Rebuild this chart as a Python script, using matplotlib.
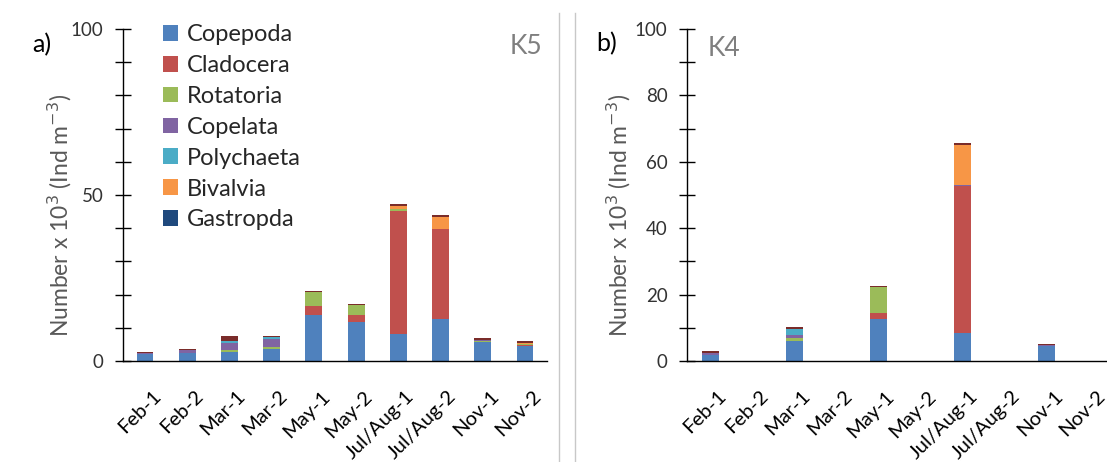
import numpy as np
import matplotlib
matplotlib.use('Agg')
import matplotlib.pyplot as plt
from matplotlib.lines import Line2D
from matplotlib.transforms import ScaledTranslation

plt.rcParams['font.family'] = ['Lato', 'DejaVu Sans']

# sampling campaigns
categories = ['Feb-1', 'Feb-2', 'Mar-1', 'Mar-2', 'May-1', 'May-2',
              'Jul/Aug-1', 'Jul/Aug-2', 'Nov-1', 'Nov-2']

groups = ['Copepoda', 'Cladocera', 'Rotatoria', 'Copelata',
          'Polychaeta', 'Bivalvia', 'Gastropda', 'Other']
colors = ['#4F81BD', '#C0504D', '#9BBB59', '#8064A2',
          '#4BACC6', '#F79646', '#1F497D', '#7A2C2A']

# station K5 (x 10^3 ind m-3)
k5_copepoda   = [2.0, 2.4, 2.7, 3.5, 14.0, 11.7, 8.2, 12.6, 5.7, 4.6]
k5_cladocera  = [0.0, 0.0, 0.0, 0.0, 2.6, 2.3, 37.1, 27.1, 0.0, 0.3]
k5_rotatoria  = [0.0, 0.0, 0.7, 0.7, 4.3, 2.8, 0.4, 0.0, 0.3, 0.3]
k5_copelata   = [0.4, 0.8, 2.0, 2.4, 0.0, 0.0, 0.0, 0.0, 0.3, 0.0]
k5_polychaeta = [0.1, 0.0, 0.7, 0.7, 0.0, 0.0, 0.0, 0.0, 0.0, 0.0]
k5_bivalvia   = [0.0, 0.0, 0.0, 0.0, 0.0, 0.0, 1.1, 3.8, 0.0, 0.3]
k5_gastropda  = [0.0, 0.0, 0.0, 0.0, 0.0, 0.0, 0.0, 0.0, 0.0, 0.0]
k5_other      = [0.3, 0.3, 1.5, 0.3, 0.3, 0.3, 0.5, 0.4, 0.6, 0.4]

# station K4 (only odd campaigns sampled)
k4_copepoda   = [1.8, 0, 5.9, 0, 12.6, 0, 8.3, 0, 4.5, 0]
k4_cladocera  = [0.0, 0, 0.0, 0, 1.9, 0, 44.3, 0, 0.0, 0]
k4_rotatoria  = [0.0, 0, 1.1, 0, 7.7, 0, 0.0, 0, 0.0, 0]
k4_copelata   = [0.5, 0, 0.7, 0, 0.0, 0, 0.3, 0, 0.2, 0]
k4_polychaeta = [0.0, 0, 2.0, 0, 0.0, 0, 0.0, 0, 0.0, 0]
k4_bivalvia   = [0.0, 0, 0.0, 0, 0.0, 0, 12.2, 0, 0.0, 0]
k4_gastropda  = [0.0, 0, 0.0, 0, 0.0, 0, 0.0, 0, 0.0, 0]
k4_other      = [0.6, 0, 0.5, 0, 0.4, 0, 0.5, 0, 0.5, 0]

k5 = [k5_copepoda, k5_cladocera, k5_rotatoria, k5_copelata,
      k5_polychaeta, k5_bivalvia, k5_gastropda, k5_other]
k4 = [k4_copepoda, k4_cladocera, k4_rotatoria, k4_copelata,
      k4_polychaeta, k4_bivalvia, k4_gastropda, k4_other]

W, H = 1107, 462
fig = plt.figure(figsize=(W / 100, H / 100), dpi=100)

ax_a = fig.add_axes([123 / W, 101 / H, 424 / W, 332 / H])
ax_b = fig.add_axes([687 / W, 101 / H, 420 / W, 332 / H])


def draw_panel(ax, series, xlim, major):
    x = np.arange(len(categories))
    bottom = np.zeros(len(categories))
    for vals, name, c in zip(series, groups, colors):
        vals = np.array(vals, dtype=float)
        ax.bar(x, vals, 0.4, bottom=bottom, color=c,
               label=name if name != 'Other' else '_nolegend_')
        bottom += vals
    ax.set_xlim(*xlim)
    ax.set_ylim(0, 100)
    ax.set_yticks(np.arange(0, 101, major))
    ax.set_yticks(np.arange(0, 101, 10), minor=True)
    ax.tick_params(axis='y', which='both', direction='inout', length=12,
                   width=1, color='black', labelsize=13.5,
                   labelcolor='#333333', pad=8)
    ax.set_xticks(x)
    ax.set_xticklabels(categories, rotation=45, ha='right', va='top',
                       rotation_mode='anchor', fontsize=14.5)
    ax.tick_params(axis='x', length=0, pad=19)
    shift = ScaledTranslation(5 / 72, 0, fig.dpi_scale_trans)
    for lab in ax.get_xticklabels():
        lab.set_transform(lab.get_transform() + shift)
    for s in ['top', 'right']:
        ax.spines[s].set_visible(False)
    ax.spines['left'].set_linewidth(1)
    ax.spines['bottom'].set_linewidth(1)


draw_panel(ax_a, k5, (-0.52, 9.52), 50)
draw_panel(ax_b, k4, (-0.55, 9.43), 20)

leg = ax_a.legend(loc='upper left', bbox_to_anchor=(163 / W, 1 - 24 / H),
                  bbox_transform=fig.transFigure, frameon=False,
                  fontsize=17, handlelength=0.65, handleheight=0.65,
                  handletextpad=0.35, labelspacing=0.42, borderpad=0,
                  borderaxespad=0)
for t in leg.get_texts():
    t.set_color('#262626')

ylab = 'Number x 10$^{3}$ (Ind m$^{-3}$)'
fig.text(60 / W, 1 - 215 / H, ylab, rotation=90, ha='center', va='center',
         fontsize=16.5, color='#595959')
fig.text(619 / W, 1 - 215 / H, ylab, rotation=90, ha='center', va='center',
         fontsize=16.5, color='#595959')

fig.text(42 / W, 1 - 45 / H, 'a)', ha='center', va='center', fontsize=18)
fig.text(607 / W, 1 - 44 / H, 'b)', ha='center', va='center', fontsize=18)
fig.text(526 / W, 1 - 47 / H, 'K5', ha='center', va='center', fontsize=19,
         color='#7f7f7f')
fig.text(724 / W, 1 - 49 / H, 'K4', ha='center', va='center', fontsize=19,
         color='#7f7f7f')

for xs in (559, 575):
    fig.add_artist(Line2D([xs / W, xs / W], [0, 1 - 13 / H],
                          color='#c8c8c8', lw=1))

fig.savefig('out.png', dpi=100)
